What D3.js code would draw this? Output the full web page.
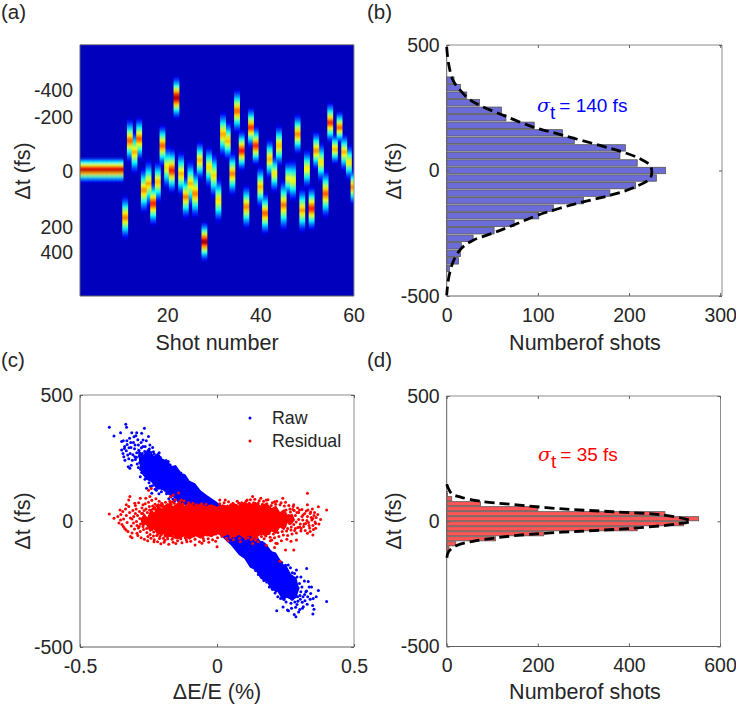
<!DOCTYPE html>
<html><head><meta charset="utf-8">
<script src="https://cdn.jsdelivr.net/npm/d3@7"></script>
<style>
html,body{margin:0;padding:0;background:#fff}
svg{display:block}
text{font-family:"Liberation Sans",Arial,sans-serif;fill:#262626}
</style></head><body>
<svg id="c" width="736" height="706"></svg>
<script>
// ---- panel (a): per-shot streak
const shotCentre=[-4,-4,-4,-4,-4,-4,-4,-4,-4,-4,284,-180,-110,-190,120,80,200,70,-150,-20,0,-440,20,160,80,140,-60,430,-20,30,180,-220,-180,20,-360,-120,220,-260,-150,100,260,-70,20,-150,210,50,60,-220,240,-10,230,-120,-50,140,-290,-130,-260,-110,-50,100];
const shotSpread=[75,75,75,75,75,75,75,75,75,75,135,135,135,135,140,150,135,130,130,135,140,130,140,135,150,150,120,120,130,140,140,140,120,135,135,125,135,125,120,130,130,125,115,130,160,115,130,125,140,120,135,120,125,150,125,95,100,115,110,110];
const shotPeak=[1,1,1,1,1,1,1,1,1,1,.76,.8,.7,.8,.75,.7,.88,.7,.8,.65,.88,1,.7,.75,.68,.76,.7,1,.65,.65,.66,.72,.7,.76,.8,.9,.76,.85,.88,.7,.8,.7,.64,.7,.76,.6,.62,.76,.72,.64,.88,.76,.64,.8,.86,.7,.8,.7,.64,.76];
const shots=d3.range(1,61);
const streakProfile=[0,.1,.24,.42,.62,.82,1,.82,.62,.42,.24,.1,0];
const jetStops=[0,.125,.375,.625,.875,1];
const jetColours=["#000080","#0000ff","#00ffff","#ffff00","#ff0000","#800000"];
const heatTicks=[-400,-200,0,200,400];
const shotTicks=[20,40,60];
// ---- panel (b)
const binB=[360,330,300,270,240,210,180,150,120,90,60,30,0,-30,-60,-90,-120,-150,-180,-210,-240,-270,-300,-330,-360,-390];
const countB=[8,15,22,36,60,65,96,127,140,196,190,209,240,230,207,179,150,117,101,74,52,29,16,15,13,3];
const fitBdt=[492,426,359,319,286,260,220,173,140,100,74,47,21,-6,-32,-70,-99,-132,-178,-218,-249,-278,-311,-364,-431,-497];
const fitBn=[0,2,7,15,24,36,62,95,128,168,193,212,223,225,223,204,179,142,100,73,51,29,16,7,2,0];
// ---- panel (d)
const binD=[110,90,70,50,30,10,-10,-30,-50,-70,-90,-110];
const countD=[2,11,74,200,479,553,520,418,213,107,20,5];
const fitDdt=[148,110,97,80,67,49,38,25,1,-11,-29,-40,-52,-66,-80,-97,-122,-153];
const fitDn=[0,11,29,73,146,255,365,474,536,504,401,292,182,109,58,22,4,0];
// ---- panel (c): points read by eye; the solid overlap areas are read as outlines
const rawCore=[[-.29,290],[-.27,262],[-.25,290],[-.23,258],[-.215,272],[-.2,248],[-.18,238],[-.165,218],[-.15,222],[-.13,190],[-.115,185],[-.1,160],[-.08,150],[-.06,122],[-.04,105],[0,75],[.05,30],[.09,-15],[.12,-20],[.14,-55],[.16,-80],[.175,-85],[.2,-120],[.215,-125],[.24,-170],[.255,-180],[.27,-210],[.29,-225],[.3,-270],[.29,-305],[.275,-315],[.255,-305],[.24,-315],[.22,-280],[.2,-275],[.18,-240],[.16,-230],[.14,-195],[.12,-185],[.1,-150],[.08,-135],[.05,-95],[0,-45],[-.05,-5],[-.08,30],[-.1,45],[-.12,65],[-.14,70],[-.16,95],[-.18,105],[-.2,125],[-.22,125],[-.24,155],[-.26,165],[-.28,200]];
const residualCore=[[-.28,8],[-.265,30],[-.255,14],[-.24,50],[-.23,34],[-.215,62],[-.2,50],[-.18,72],[-.16,60],[-.14,76],[-.12,62],[-.1,72],[-.08,60],[-.06,70],[-.04,58],[-.02,66],[0,56],[.02,66],[.04,60],[.06,72],[.08,62],[.1,76],[.12,66],[.14,76],[.16,62],[.18,72],[.2,52],[.215,62],[.23,36],[.245,48],[.26,22],[.275,30],[.285,4],[.27,-16],[.258,-8],[.245,-38],[.23,-26],[.215,-52],[.2,-42],[.18,-62],[.16,-54],[.14,-70],[.12,-58],[.1,-68],[.08,-56],[.06,-66],[.04,-54],[.02,-62],[0,-52],[-.02,-64],[-.04,-58],[-.06,-70],[-.08,-60],[-.1,-74],[-.12,-62],[-.14,-72],[-.16,-58],[-.18,-66],[-.2,-48],[-.215,-58],[-.23,-34],[-.245,-44],[-.26,-14],[-.272,-24]];
const rawPoints=[-.393,372,-.376,337,-.352,350,-.333,384,-.33,372,-.311,350,-.293,350,-.265,368,-.25,335,-.275,348,-.348,315,-.348,282,-.34,255,-.324,215,-.318,209,-.3,255,-.27,321,-.245,302,-.232,275,-.28,176,-.257,130,-.238,110,
-.342,318,-.337,296,-.343,268,-.336,241,-.328,304,-.331,279,-.326,262,-.322,247,-.319,328,-.314,292,-.317,268,-.309,241,-.313,221,-.305,312,-.301,287,-.296,338,-.298,244,-.293,271,-.291,226,-.287,302,-.284,258,-.282,232,-.279,205,-.276,291,-.273,268,-.268,241,-.271,214,-.266,186,-.262,296,-.259,262,-.256,231,-.261,205,-.254,181,-.248,152,-.251,278,-.244,258,-.242,225,-.239,196,-.246,168,-.236,140,-.232,251,-.227,233,-.23,205,-.224,172,-.228,148,-.221,122,-.216,255,-.213,212,-.218,188,-.209,160,-.214,132,-.204,241,-.201,198,-.206,176,-.198,146,-.203,116,-.193,226,-.19,197,-.187,172,-.195,142,-.184,108,-.178,236,-.174,188,-.181,158,-.171,128,-.169,96,-.163,210,-.158,168,-.166,140,-.154,112,-.161,87,-.149,183,-.146,158,-.143,122,-.151,98,-.139,78,-.132,190,-.127,160,-.124,132,-.135,102,-.119,148,-.113,122,-.116,92,-.107,138,-.104,108,-.096,128,-.092,96,-.084,116,-.078,82,-.069,106,
-.338,288,-.329,318,-.321,291,-.315,312,-.307,263,-.303,334,-.299,302,-.289,322,-.294,253,-.285,281,-.277,312,-.27,296,-.264,276,-.258,318,-.253,246,-.247,286,-.241,272,-.235,292,-.229,266,-.222,246,-.211,271,-.207,252,-.186,240,-.171,222,-.155,206,-.141,196,-.121,178,-.287,212,-.275,192,-.263,166,-.25,198,-.243,138,-.234,160,-.226,126,-.212,108,-.2,128,-.189,124,-.176,88,-.156,78,-.144,100,-.13,62,
.041,-61,.044,-36,.058,-92,.062,-52,.078,-106,.083,-63,.089,-121,.093,-78,.098,-132,.103,-88,.107,-52,.111,-151,.114,-106,.118,-72,.121,-162,.124,-121,.127,-88,.131,-177,.134,-136,.138,-102,.141,-196,.143,-151,.146,-118,.148,-86,.151,-212,.154,-167,.156,-131,.159,-98,.161,-221,.164,-181,.167,-142,.169,-112,.171,-236,.173,-191,.176,-156,.178,-121,.181,-242,.184,-206,.186,-166,.188,-131,.191,-262,.194,-216,.197,-182,.199,-146,.202,-271,.204,-226,.207,-192,.209,-156,.212,-286,.214,-241,.217,-206,.219,-166,.222,-301,.224,-256,.227,-216,.229,-181,.232,-281,.234,-232,.237,-196,.241,-341,.243,-266,.246,-241,.248,-206,.252,-321,.254,-286,.256,-256,.258,-216,.261,-356,.263,-301,.266,-266,.268,-231,.272,-346,.274,-311,.276,-276,.278,-241,.282,-371,.284,-321,.286,-291,.288,-256,.292,-331,.294,-301,.296,-266,.302,-351,.304,-311,.306,-281,.298,-361,.312,-346,.314,-301,.321,-316,.324,-281,.331,-301,
.4,-319,.327,-188,.37,-276,.218,-356,.257,-353,.288,-380,.35,-369,.354,-350,.315,-340,.34,-311,.29,-194,.26,-175,.362,-301,.345,-262,.333,-240,.306,-222,.349,-335,.275,-205,
.283,-208,.292,-222,.301,-248,.31,-262,.319,-238,.327,-278,.336,-262,.303,-296,.295,-318,.287,-342,.279,-302,.27,-326,.262,-288,.311,-322,.32,-292,.329,-330,.342,-288,.351,-308,.268,-186,.28,-228,.25,-176,.236,-165,.225,-158,.21,-132,.195,-122,.182,-104,.165,-84,.245,-312,.232,-308,.216,-278,.203,-266,.19,-238,.172,-212,.155,-184,.135,-152];
const residualPoints=[-.393,28,-.376,11,-.354,44,-.352,4,-.342,-22,-.332,-36,-.331,64,-.322,83,-.318,97,-.316,-62,-.31,-66,-.3,70,-.292,-49,-.284,-22,-.28,90,-.27,64,-.26,90,-.25,122,-.24,129,-.245,97,-.252,-62,-.23,-82,-.21,-69,-.19,-76,-.17,97,-.16,103,-.14,111,-.13,83,-.15,-89,-.11,-82,-.08,-95,-.05,-69,0,-102,.01,83,.03,83,.05,64,.08,70,.11,83,.13,97,.16,90,.18,83,.21,76,.24,90,.28,64,.33,110,.33,64,.37,57,.4,44,.34,30,.35,10,.36,-29,.33,-49,.35,-56,.29,-75,.25,-115,.23,-160,.13,-89,.14,-75,.22,-89,.2,-75,.28,-115,
-.362,18,-.358,-8,-.351,26,-.347,-14,-.344,38,-.341,8,-.337,-30,-.334,48,-.331,22,-.328,-6,-.325,-42,-.322,58,-.319,34,-.316,12,-.313,-20,-.31,-48,-.307,42,-.304,18,-.301,-32,-.298,62,-.295,48,-.292,-18,-.289,-58,-.286,72,-.283,38,-.28,-42,-.277,-66,-.274,52,-.271,30,-.268,-34,-.265,-72,-.262,68,-.259,48,-.256,-46,-.253,-78,-.25,74,-.247,58,-.244,-54,-.241,-68,-.238,82,-.235,60,-.232,-60,-.229,-74,-.226,66,-.223,88,-.22,-58,-.217,-82,-.214,64,-.211,78,-.208,-62,-.205,-90,-.202,70,-.199,58,-.196,-68,-.193,-84,
-.188,74,-.184,62,-.18,-70,-.176,-92,-.172,78,-.168,66,-.164,-72,-.16,-84,-.156,70,-.152,84,-.148,-66,-.144,-78,-.14,64,-.136,76,-.132,-70,-.128,-86,-.124,68,-.12,80,-.116,-66,-.112,-74,-.108,62,-.104,72,-.1,-62,-.096,-80,-.092,58,-.088,70,-.084,-60,-.08,-72,-.076,64,-.072,56,-.068,-58,-.064,-82,-.06,60,-.056,68,-.052,-60,-.048,-78,-.044,54,-.04,66,-.036,-56,-.032,-70,-.028,60,-.024,52,-.02,-54,-.016,-74,-.012,58,-.008,48,-.004,-52,.002,-66,.006,56,.01,68,.014,-50,.018,-62,.022,52,.026,72,.03,-54,.034,-68,.038,60,.042,76,.046,-52,.05,-64,.054,58,.058,70,.062,-54,.066,-60,.07,62,.074,78,.078,-50,.082,-68,.086,64,.09,72,.094,-52,.098,-60,.102,66,.106,78,.11,-54,.114,-66,.118,70,.122,84,.126,-56,.13,-68,.134,72,.138,86,.142,-54,.146,-66,.15,70,.154,80,.158,-52,.162,-62,.166,66,.17,78,.174,-48,.178,-60,.182,68,.186,84,.19,-50,.194,-64,.198,62,.202,72,.206,-52,.21,-66,.214,66,.218,78,.222,-46,.226,-62,.23,64,.234,72,.238,-42,.242,-56,.246,60,.25,74,.254,-40,.258,-58,.262,62,.266,48,.27,-36,.274,-52,.278,58,.282,42,.286,-30,.29,-48,.294,52,.298,34,.302,-24,.306,-40,.31,46,.314,24,.318,-12,.322,-38,.326,40,.33,18,.334,-6,.338,-28,.342,36,.346,4,.35,-18,.354,22,.358,-4,.362,14,.368,26,.372,-12,.378,6,
-.31,8,-.305,-8,-.298,30,-.294,-2,-.29,22,-.287,-28,-.282,10,-.279,-12,-.275,30,-.272,4,-.27,-22,-.266,42,-.263,16,-.26,-8,-.257,-30,-.254,34,-.251,6,-.249,-20,-.246,44,-.243,18,-.24,-6,-.238,-34,-.236,30,-.234,48,-.231,-44,-.228,54,-.226,-30,-.224,46,-.221,-40,-.219,60,-.216,-52,-.212,48,-.209,-44,-.206,62,-.203,-54,-.2,66,-.197,-48,-.193,58,-.19,-60,-.187,56,-.182,-62,-.178,60,-.174,-58,-.17,72,-.166,-60,-.162,76,-.158,-64,
.238,12,.241,-8,.245,32,.248,-22,.252,44,.255,2,.258,-30,.262,22,.265,-10,.268,36,.271,-24,.274,8,.277,46,.28,-14,.283,-38,.286,22,.289,-4,.292,34,.295,-26,.298,6,.301,44,.304,-12,.307,-30,.31,18,.313,4,.316,-22,.32,30,.324,-10,.328,2,.332,44,.336,-18,.34,-42,.344,14,.348,48,.352,-34,.356,34,.36,-10,
-.005,-80,-.03,-84,-.055,-88,.04,-78,.06,-74,.085,-82,.105,-70,.125,-74,.15,-82,.172,-70,.195,-78,.215,-88,.235,-78,.18,-96,.21,-105,.255,-72,.27,-80];
const scatterXTicks=[-.5,0,.5], dtTicks=[500,0,-500];
const countTicksB=[0,100,200,300], countTicksD=[0,200,400,600];

const svg=d3.select("#c");
const boxes={a:[80,44.7,354,296],b:[446.7,45,722,296],c:[80,395,354,647],d:[446.7,396,720.5,646.5]};
const FS=19.5, LS=21.5;
const axisLine="#8c8c8c", axisDark="#606060";

function frame(box,x,y,xt,yt,fmtX,fmtY,tickLen){
  const [l,t,r,b]=box;
  const g=svg.append("g");
  g.append("path").attr("d",`M${l},${t}H${r}V${b}`).attr("fill","none").attr("stroke",axisLine).attr("stroke-width",1);
  g.append("path").attr("d",`M${l},${t}V${b}H${r}`).attr("fill","none").attr("stroke",axisDark).attr("stroke-width",1);
  const xa=g.append("g").attr("transform",`translate(0,${b})`).call(d3.axisBottom(x).tickValues(xt).tickFormat(fmtX).tickSizeInner(-tickLen).tickSizeOuter(0).tickPadding(12));
  const ya=g.append("g").attr("transform",`translate(${l},0)`).call(d3.axisLeft(y).tickValues(yt).tickFormat(fmtY).tickSizeInner(-tickLen).tickSizeOuter(0).tickPadding(7));
  [xa,ya].forEach(s=>{s.select(".domain").remove();s.selectAll("line").attr("stroke",axisDark);s.selectAll("text").attr("font-size",FS).attr("fill","#262626").attr("font-family",'"Liberation Sans",Arial,sans-serif');});
  if(tickLen){
    g.append("g").attr("transform",`translate(0,${t})`).call(d3.axisTop(x).tickValues(xt).tickFormat("").tickSizeInner(-tickLen).tickSizeOuter(0)).call(s=>{s.select(".domain").remove();s.selectAll("line").attr("stroke",axisDark);});
    g.append("g").attr("transform",`translate(${r},0)`).call(d3.axisRight(y).tickValues(yt).tickFormat("").tickSizeInner(-tickLen).tickSizeOuter(0)).call(s=>{s.select(".domain").remove();s.selectAll("line").attr("stroke",axisDark);});
  }
}
function label(txt,x,y,rot,size){
  const t=svg.append("text").attr("text-anchor","middle").attr("font-size",size||LS);
  if(rot) t.attr("transform",`translate(${x},${y}) rotate(-90)`); else t.attr("x",x).attr("y",y);
  t.text(txt);
}
function sigma(x,y,col,rest){
  const t=svg.append("text").attr("x",x).attr("y",y).attr("font-size",19).style("fill",col);
  t.append("tspan").attr("font-style","italic").attr("font-family",'"DejaVu Serif",serif').text("σ");
  t.append("tspan").attr("dy",7).text("t");
  t.append("tspan").attr("dy",-7).attr("dx",4).text(rest);
}

// Panel a
(function(){
  const [l,t,r,b]=boxes.a;
  const defs=svg.append("defs");
  defs.append("clipPath").attr("id","clipA").append("rect").attr("x",l).attr("y",t).attr("width",r-l).attr("height",b-t);
  defs.append("filter").attr("id","soft").attr("x","-5%").attr("y","-5%").attr("width","110%").attr("height","110%")
    .append("feGaussianBlur").attr("stdDeviation","0.7 0.9");
  const x=d3.scaleLinear().domain([1.3,60.1]).range([l,r]);
  const rows=d3.range(-752,760,16);
  const yRow=d3.scaleBand().domain(rows).range([t,b]);
  const colour=d3.scaleLinear().domain(jetStops).range(jetColours).clamp(true);
  const prof=d3.scaleLinear().domain(streakProfile.map((_,i)=>-1+2*i/(streakProfile.length-1))).range(streakProfile).clamp(true);
  const w=x(2)-x(1);
  const clip=svg.append("g").attr("clip-path","url(#clipA)");
  const g=clip.append("g").attr("filter","url(#soft)");
  g.append("rect").attr("x",l-5).attr("y",t-5).attr("width",r-l+10).attr("height",b-t+10).attr("fill",colour(.06));
  const cells=[];
  shots.forEach((s,i)=>rows.forEach(d=>{
    const v=prof((d-shotCentre[i])/shotSpread[i])*shotPeak[i];
    if(v>.005) cells.push({s,d,v:.06+v*.94});
  }));
  cells.sort((p,q)=>p.v-q.v);
  g.selectAll("rect.c").data(cells).join("rect").attr("class","c")
    .attr("x",d=>x(d.s)-w/2-.6).attr("y",d=>yRow(d.d)).attr("width",w+1.2).attr("height",yRow.bandwidth()+.3)
    .attr("fill",d=>colour(d.v));
  const yTick=d3.scaleLinear().domain(heatTicks).range([90,117,171,227,252]);
  frame(boxes.a,x,yTick,shotTicks,heatTicks,d3.format("d"),d=>String(d),0);
})();

// Histogram panels
function hist(box,dom,bins,counts,fd,fn,xt,col,barH){
  const [l,t,r,b]=box;
  const x=d3.scaleLinear().domain(dom).range([l,r]);
  const y=d3.scaleLinear().domain([-500,500]).range([b,t]);
  svg.append("g").selectAll("rect").data(bins).join("rect")
    .attr("x",l).attr("y",d=>y(d)-barH/2).attr("width",(d,i)=>x(counts[i])-l).attr("height",barH)
    .attr("fill",col).attr("stroke","#555").attr("stroke-width",.8);
  frame(box,x,y,xt,dtTicks,d3.format("d"),d=>String(d),3);
  const line=d3.line().x(d=>x(d[0])).y(d=>y(d[1])).curve(d3.curveCatmullRom);
  svg.append("path").attr("d",line(fn.map((n,i)=>[n,fd[i]]))).attr("fill","none").attr("stroke","#000").attr("stroke-width",2.8).attr("stroke-dasharray","10 5");
}
hist(boxes.b,[0,302],binB,countB,fitBdt,fitBn,countTicksB,"#6c6cd8",6.4);
hist(boxes.d,[0,601],binD,countD,fitDdt,fitDn,countTicksD,"#ff5555",4.1);

// Panel c
(function(){
  const [l,t,r,b]=boxes.c;
  const x=d3.scaleLinear().domain([-.5,.5]).range([l,r]);
  const y=d3.scaleLinear().domain([-500,500]).range([b,t]);
  const pairs=a=>d3.range(0,a.length,2).map(i=>[a[i],a[i+1]]);
  const area=d3.line().x(d=>x(d[0])).y(d=>y(d[1]));
  svg.append("path").attr("d",area(rawCore)+"Z").attr("fill","#0000ff");
  svg.append("g").selectAll("circle").data(pairs(rawPoints)).join("circle").attr("cx",d=>x(d[0])).attr("cy",d=>y(d[1])).attr("r",1.5).attr("fill","#0000ff");
  svg.append("path").attr("d",area(residualCore)+"Z").attr("fill","#ff0000");
  svg.append("g").selectAll("circle").data(pairs(residualPoints)).join("circle").attr("cx",d=>x(d[0])).attr("cy",d=>y(d[1])).attr("r",1.5).attr("fill","#ff0000");
  frame(boxes.c,x,y,scatterXTicks,dtTicks,d=>d===0?"0":String(d),d=>String(d),3);
  const legend=[["Raw","#0000ff",418],["Residual","#ff0000",441]];
  legend.forEach(d=>{
    svg.append("circle").attr("cx",250).attr("cy",d[2]).attr("r",1.5).attr("fill",d[1]);
    svg.append("text").attr("x",272).attr("y",d[2]+6).attr("font-size",17.8).text(d[0]);
  });
})();

label("Δt (fs)",30,171,true);
label("Δt (fs)",401,171,true);
label("Δt (fs)",30,521,true);
label("Δt (fs)",401,521,true);
label("Shot number",217,350);
label("Numberof shots",585,350);
label("ΔE/E (%)",217,699);
label("Numberof shots",585,699);
[["(a)",1,19],["(b)",367,19],["(c)",1,367],["(d)",367,367]].forEach(d=>svg.append("text").attr("x",d[1]).attr("y",d[2]).attr("font-size",20.5).text(d[0]));
sigma(537,112,"#0000ff","= 140 fs");
sigma(538,461,"#ff0000","= 35 fs");
</script>
</body></html>
